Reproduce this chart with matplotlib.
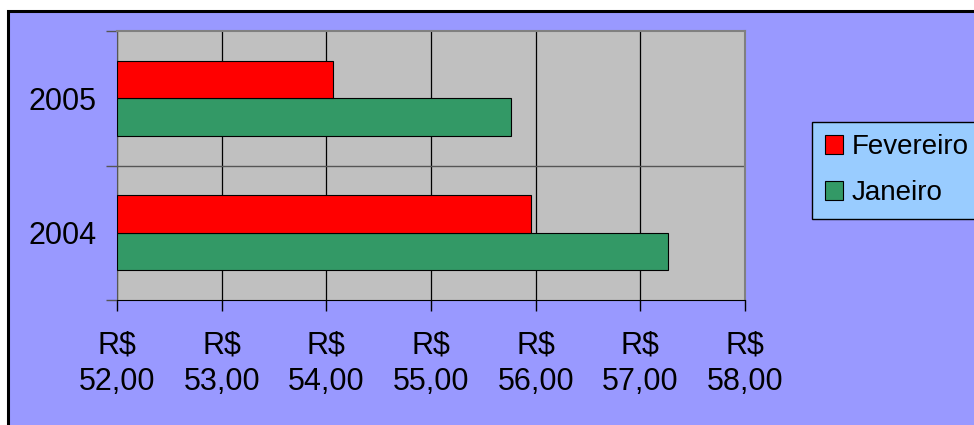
import numpy as np
import matplotlib.pyplot as plt
from matplotlib.patches import Rectangle
from matplotlib.ticker import FixedLocator

plt.rcParams["font.family"] = ["Liberation Sans", "DejaVu Sans"]

# dados
anos = ["2004", "2005"]
janeiro = [57.26, 55.76]
fevereiro = [55.96, 54.06]
ticks_x = [52, 53, 54, 55, 56, 57, 58]
rotulos_x = ["R$\n52,00", "R$\n53,00", "R$\n54,00", "R$\n55,00",
             "R$\n56,00", "R$\n57,00", "R$\n58,00"]

W, H = 974, 425
fig = plt.figure(figsize=(W / 100, H / 100), dpi=100, facecolor="white")

# moldura do gráfico (fundo lilás com borda preta, cortada à direita e embaixo)
fig.add_artist(Rectangle((8 / W, -0.05), 1.1, 1 - 11 / H + 0.05,
                         transform=fig.transFigure, facecolor="#9999FF",
                         edgecolor="black", linewidth=2.2, zorder=-10))

ax = fig.add_axes([117 / W, 1 - 300 / H, (745 - 117) / W, (300 - 31) / H])
ax.set_facecolor("#C0C0C0")

y = np.arange(len(anos))
h = 0.28
base = 52
ax.barh(y - h / 2, np.array(janeiro) - base, left=base, height=h,
        color="#339966", edgecolor="black", linewidth=0.8, label="Janeiro", zorder=3)
ax.barh(y + h / 2, np.array(fevereiro) - base, left=base, height=h,
        color="#FF0000", edgecolor="black", linewidth=0.8, label="Fevereiro", zorder=3)

ax.set_xlim(52, 58)
ax.set_ylim(-0.5, 1.5)
ax.set_xticks(ticks_x)
ax.set_xticklabels(rotulos_x, fontsize=22, linespacing=1.3)
ax.set_yticks(y)
ax.set_yticklabels(anos, fontsize=22)
ax.yaxis.set_minor_locator(FixedLocator([-0.5, 0.5, 1.5]))

ax.tick_params(axis="x", length=8, width=1, pad=14, direction="out")
ax.tick_params(axis="y", which="major", length=0, pad=15)
ax.tick_params(axis="y", which="minor", length=8, width=1, color="#555555")

ax.grid(axis="x", color="black", linewidth=0.9, zorder=1)
ax.set_axisbelow(True)
ax.axhline(0.5, color="#555555", linewidth=1, zorder=1)

for s in ["top", "right"]:
    ax.spines[s].set_color("#808080")
    ax.spines[s].set_linewidth(1.5)
ax.spines["left"].set_color("#555555")
ax.spines["bottom"].set_color("black")

handles, labels = ax.get_legend_handles_labels()
leg = fig.legend(handles[::-1], labels[::-1], loc="upper left",
                 bbox_to_anchor=(812 / W, 1 - 122 / H), fontsize=20,
                 frameon=True, fancybox=False, framealpha=1,
                 facecolor="#99CCFF", edgecolor="black",
                 handlelength=0.68, handleheight=0.68, handletextpad=0.3,
                 labelspacing=0.72, borderpad=0.45, borderaxespad=0)
leg.get_frame().set_linewidth(1)

fig.savefig("out.png", dpi=100)
